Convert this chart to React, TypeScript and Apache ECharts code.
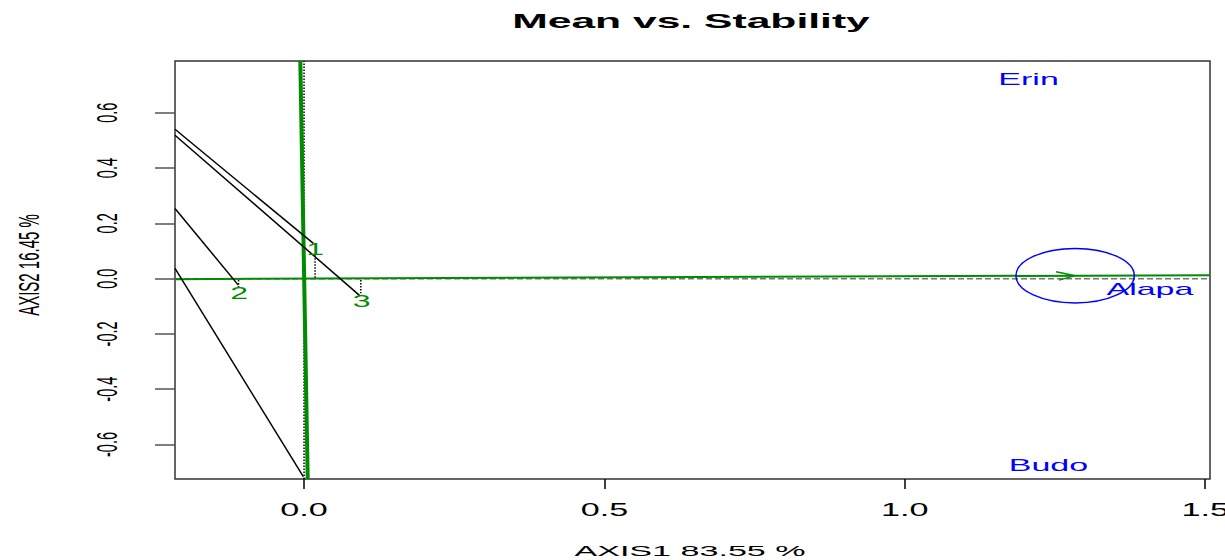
import React, { useEffect, useRef } from "react";
import * as echarts from "echarts";

// Axis ranges
const X_MIN = -0.2148;
const X_MAX = 1.508;
const Y_MIN = -0.7249;
const Y_MAX = 0.7874;

const xTicks = [0, 0.5, 1.0, 1.5];
const xTickLabels = ["0.0", "0.5", "1.0", "1.5"];
const yTicks = [-0.6, -0.4, -0.2, 0, 0.2, 0.4, 0.6];
const yTickLabels = ["-0.6", "-0.4", "-0.2", "0.0", "0.2", "0.4", "0.6"];

// Average environment coordinate (AEC)
const meanEnv = [1.2835, 0.0108];
const meanEnvRadius = 0.0985;
const aecAbscissa = [
  [-0.2148, -0.0018],
  [1.508, 0.0127],
];
const aecOrdinate = [
  [-0.0062, 0.7874],
  [0.0061, -0.7249],
];

// Reference lines through the origin
const originVertical = [
  [0, Y_MIN],
  [0, Y_MAX],
];
const originHorizontal = [
  [X_MIN, 0],
  [X_MAX, 0],
];

// Black lines
const blackLine1 = [
  [-0.2148, 0.5405],
  [0.0155, 0.1273],
];
const blackLine2 = [
  [-0.2148, 0.5188],
  [0.0932, -0.0622],
];
const blackLine3 = [
  [-0.2148, 0.2538],
  [-0.1094, -0.0235],
];
const blackLine4 = [
  [-0.2148, 0.0369],
  [-0.0012, -0.7166],
];

// Projections of genotypes on the AEC abscissa (dotted)
const projection1 = [
  [0.0183, 0.085],
  [0.0183, 0.002],
];
const projection2 = [
  [-0.109, -0.005],
  [-0.109, -0.03],
];
const projection3 = [
  [0.0945, -0.005],
  [0.0945, -0.053],
];

// Genotypes
const genotypeNames = ["1", "2", "3"];
const genotypeX = [0.0183, -0.108, 0.0957];
const genotypeY = [0.107, -0.054, -0.081];

// Environments
const envNames = ["Erin", "Alapa", "Budo"];
const envX = [1.206, 1.408, 1.239];
const envY = [0.721, -0.038, -0.674];

const GREEN = "#008B00";
const BLUE = "#0000FF";
const FONT = "'Liberation Sans', Arial, Helvetica, sans-serif";

function lineSeries(data: number[][], color: string, width: number, type: string = "solid", z = 2) {
  return {
    type: "line",
    data,
    showSymbol: false,
    symbol: "none",
    silent: true,
    z,
    lineStyle: { color, width, type },
  };
}

function textSeries(
  xs: number[],
  ys: number[],
  labels: string[],
  color: string,
  fontSize: number,
  scaleX: number,
  dx = 0,
  dy = 0,
  rotate = false,
  scaleY = 1
) {
  return {
    type: "custom",
    clip: false,
    silent: true,
    z: 10,
    data: xs.map((x, i) => [x, ys[i]]),
    renderItem: (params: any, api: any) => {
      const p = api.coord([api.value(0), api.value(1)]);
      return {
        type: "text",
        x: p[0] + dx,
        y: p[1] + dy,
        rotation: rotate ? Math.PI / 2 : 0,
        scaleX,
        scaleY,
        style: {
          text: labels[params.dataIndex],
          x: 0,
          y: 0,
          fill: color,
          fontSize,
          fontFamily: FONT,
          align: "center",
          verticalAlign: "middle",
        },
      };
    },
  };
}

export default function App() {
  const ref = useRef<HTMLDivElement>(null);

  useEffect(() => {
    if (!ref.current) return;
    const chart = echarts.init(ref.current, null, { renderer: "svg" });

    const option: any = {
      animation: false,
      backgroundColor: "#ffffff",
      grid: {
        left: 175,
        right: 15,
        top: 61,
        bottom: 81,
        show: true,
        borderColor: "#333333",
        borderWidth: 1.5,
        backgroundColor: "transparent",
      },
      xAxis: {
        type: "value",
        min: X_MIN,
        max: X_MAX,
        position: "bottom",
        axisLine: { show: false, onZero: false },
        splitLine: { show: false },
        axisLabel: { show: false },
        axisTick: {
          show: true,
          customValues: xTicks,
          length: 10,
          lineStyle: { color: "#000000", width: 1.5 },
        },
      },
      yAxis: {
        type: "value",
        min: Y_MIN,
        max: Y_MAX,
        position: "left",
        axisLine: { show: false, onZero: false },
        splitLine: { show: false },
        axisLabel: { show: false },
        axisTick: {
          show: true,
          customValues: yTicks,
          length: 20,
          lineStyle: { color: "#555555", width: 1.5 },
        },
      },
      graphic: [
        {
          type: "text",
          x: 691,
          y: 21,
          scaleX: 2.03,
          style: {
            text: "Mean vs. Stability",
            x: 0,
            y: 0,
            fill: "#000000",
            fontSize: 21,
            fontWeight: "bold",
            fontFamily: FONT,
            align: "center",
            verticalAlign: "middle",
          },
        },
        {
          type: "text",
          x: 690,
          y: 551,
          scaleX: 2.2,
          style: {
            text: "AXIS1 83.55 %",
            x: 0,
            y: 0,
            fill: "#000000",
            fontSize: 15.5,
            fontFamily: FONT,
            align: "center",
            verticalAlign: "middle",
          },
        },
        {
          type: "text",
          x: 29,
          y: 265,
          rotation: Math.PI / 2,
          scaleY: 2.0,
          style: {
            text: "AXIS2 16.45 %",
            x: 0,
            y: 0,
            fill: "#000000",
            fontSize: 15,
            fontFamily: FONT,
            align: "center",
            verticalAlign: "middle",
          },
        },
      ],
      series: [
        lineSeries(originVertical, "#000000", 1.5, "dotted", 1),
        lineSeries(originHorizontal, "#777777", 1.5, "dashed", 1),
        lineSeries(aecAbscissa, GREEN, 2, "solid", 2),
        lineSeries(aecOrdinate, GREEN, 4, "solid", 2),
        lineSeries(blackLine1, "#000000", 1.5, "solid", 3),
        lineSeries(blackLine2, "#000000", 1.5, "solid", 3),
        lineSeries(blackLine3, "#000000", 1.5, "solid", 3),
        lineSeries(blackLine4, "#000000", 1.5, "solid", 3),
        lineSeries(projection1, "#000000", 1.5, "dotted", 3),
        lineSeries(projection2, "#000000", 1.5, "dotted", 3),
        lineSeries(projection3, "#000000", 1.5, "dotted", 3),
        // circle around average environment
        {
          type: "custom",
          clip: false,
          silent: true,
          z: 4,
          data: [[meanEnv[0], meanEnv[1], meanEnvRadius]],
          renderItem: (params: any, api: any) => {
            const c = api.coord([api.value(0), api.value(1)]);
            const r = api.value(2);
            const s = api.size([r, r]);
            return {
              type: "ellipse",
              shape: { cx: c[0], cy: c[1], rx: s[0], ry: s[1] },
              style: { fill: "none", stroke: BLUE, lineWidth: 1.5 },
            };
          },
        },
        // arrow head at the average environment
        {
          type: "custom",
          clip: false,
          silent: true,
          z: 4,
          data: [[meanEnv[0], meanEnv[1]]],
          renderItem: (params: any, api: any) => {
            const t = api.coord([api.value(0), api.value(1)]);
            return {
              type: "polyline",
              shape: {
                points: [
                  [t[0] - 19, t[1] - 4],
                  [t[0], t[1]],
                  [t[0] - 16, t[1] + 4.5],
                ],
              },
              style: { fill: "none", stroke: GREEN, lineWidth: 1.5 },
            };
          },
        },
        textSeries(genotypeX, genotypeY, genotypeNames, GREEN, 16, 2.0),
        textSeries(envX, envY, envNames, BLUE, 17, 2.0),
        // x tick labels
        textSeries(xTicks, xTicks.map(() => Y_MIN), xTickLabels, "#000000", 18, 1.9, 0, 31),
        // y tick labels
        textSeries(yTicks.map(() => X_MIN), yTicks, yTickLabels, "#000000", 14.5, 1, -68, 0, true, 2.0),
      ],
    };

    chart.setOption(option);
    return () => chart.dispose();
  }, []);

  return (
    <div
      ref={ref}
      style={{ position: "fixed", left: 0, top: 0, width: 1225, height: 560, background: "#fff" }}
    />
  );
}
